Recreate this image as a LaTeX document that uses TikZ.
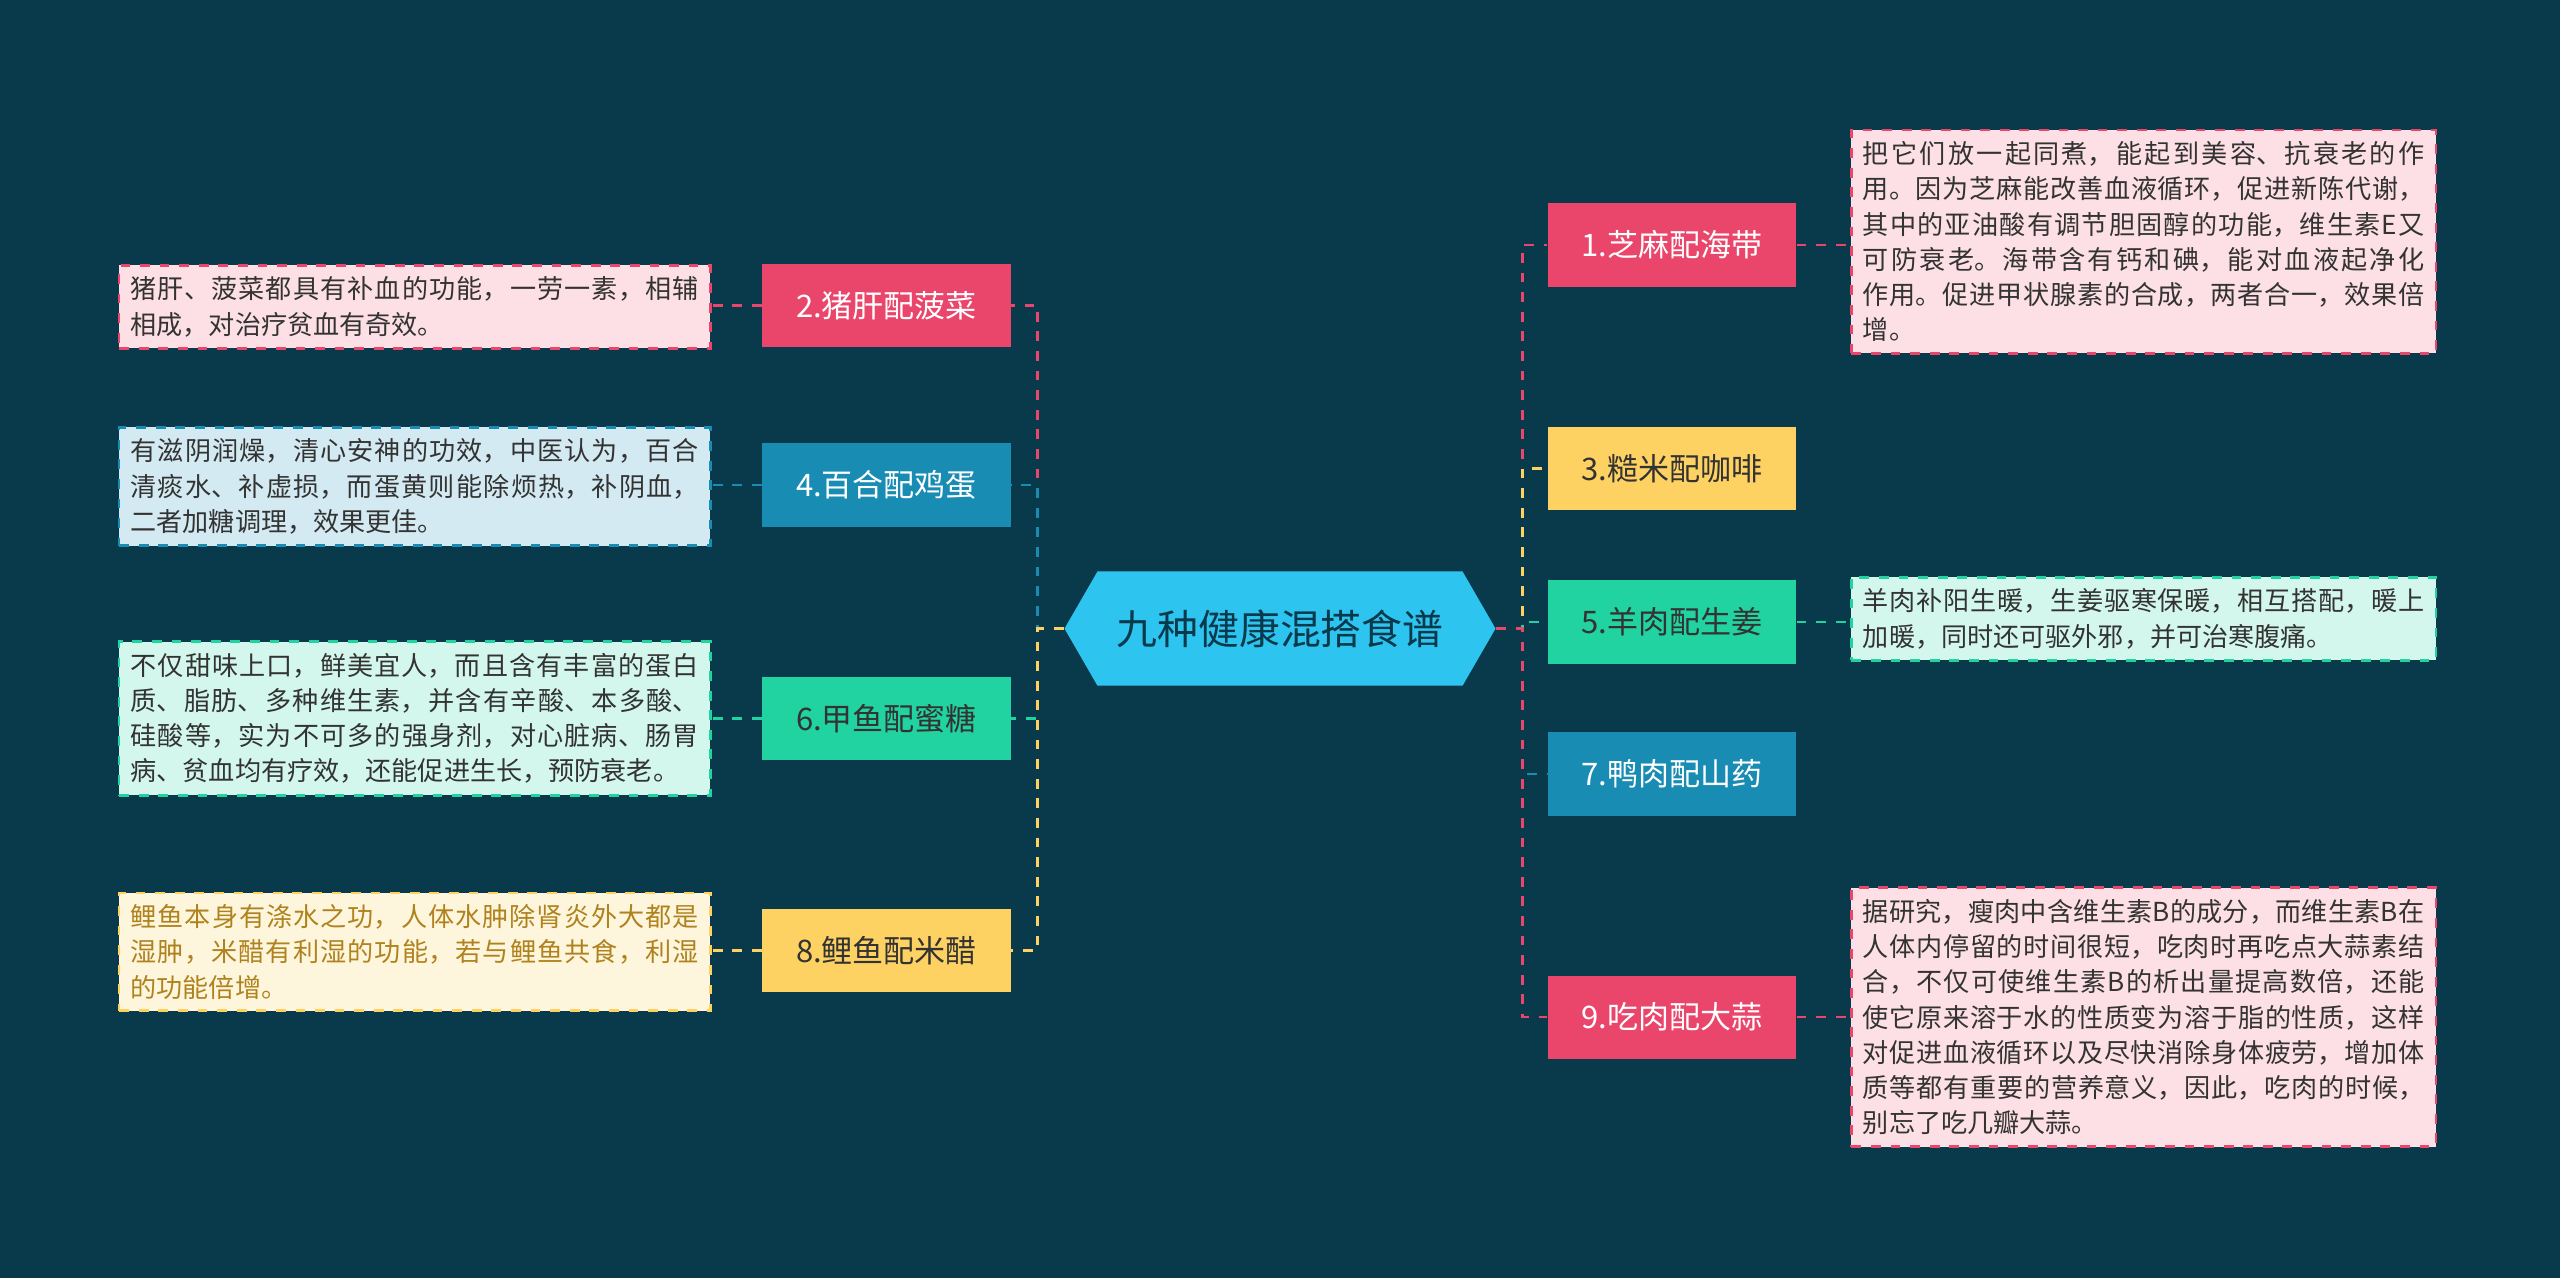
\documentclass[tikz,border=0pt]{standalone}
\usepackage{fontspec}
\setmainfont{Noto Sans CJK SC}
\XeTeXlinebreaklocale "zh"
\XeTeXlinebreakskip = 0pt plus 1pt
\usetikzlibrary{shapes.symbols}
\definecolor{bg}{RGB}{9,58,76}
\definecolor{cpink}{RGB}{234,70,107}
\definecolor{cyel}{RGB}{253,210,99}
\definecolor{cgreen}{RGB}{32,211,160}
\definecolor{cblue}{RGB}{25,140,180}
\definecolor{ccyan}{RGB}{46,196,240}
\definecolor{lpink}{RGB}{253,224,230}
\definecolor{lblue}{RGB}{212,234,242}
\definecolor{lgreen}{RGB}{211,247,236}
\definecolor{lyel}{RGB}{254,246,220}
\definecolor{txt}{RGB}{51,51,51}
\definecolor{gold}{RGB}{176,130,30}
\tikzset{
  branch/.style={minimum width=76pt, minimum height=25.5pt, inner sep=2pt, font=\fontsize{9.5}{11}\selectfont},
  leaf/.style={draw, dashed, thick, text width=#1, align=justify, inner sep=3.5pt, text=txt, font=\fontsize{8}{10.8}\selectfont},
  link/.style={dashed, thick}
}
\begin{document}
\begin{tikzpicture}[x=0.5pt, y=-0.5pt]
  \fill[bg] (0,0) rectangle (1568,783);
  \node[signal, signal to=west and east, signal pointer angle=120, fill=ccyan,
        minimum width=132pt, minimum height=35pt, inner xsep=4pt, text=bg, font=\fontsize{12.5}{14}\selectfont] (root) at (784,385) {九种健康混搭食谱};
  % right side
  \node[branch, fill=cpink, text=white] (b1) at (1024,150) {1.芝麻配海带};
  \node[branch, fill=cyel, text=txt] (b3) at (1024,287) {3.糙米配咖啡};
  \node[branch, fill=cgreen, text=txt] (b5) at (1024,381) {5.羊肉配生姜};
  \node[branch, fill=cblue, text=white] (b7) at (1024,474) {7.鸭肉配山药};
  \node[branch, fill=cpink, text=white] (b9) at (1024,623) {9.吃肉配大蒜};
  % left side
  \node[branch, fill=cpink, text=white] (b2) at (543,187) {2.猪肝配菠菜};
  \node[branch, fill=cblue, text=white] (b4) at (543,297) {4.百合配鸡蛋};
  \node[branch, fill=cgreen, text=txt] (b6) at (543,440) {6.甲鱼配蜜糖};
  \node[branch, fill=cyel, text=txt] (b8) at (543,582) {8.鲤鱼配米醋};
  % leaves
  \node[leaf=172pt, draw=cpink, fill=lpink] (l1) at (1313,148) {把它们放一起同煮，能起到美容、抗衰老的作用。因为芝麻能改善血液循环，促进新陈代谢，其中的亚油酸有调节胆固醇的功能，维生素E又可防衰老。海带含有钙和碘，能对血液起净化作用。促进甲状腺素的合成，两者合一，效果倍增。};
  \node[leaf=172pt, draw=cgreen, fill=lgreen] (l5) at (1313,379) {羊肉补阳生暖，生姜驱寒保暖，相互搭配，暖上加暖，同时还可驱外邪，并可治寒腹痛。};
  \node[leaf=172pt, draw=cpink, fill=lpink] (l9) at (1313,623) {据研究，瘦肉中含维生素B的成分，而维生素B在人体内停留的时间很短，吃肉时再吃点大蒜素结合，不仅可使维生素B的析出量提高数倍，还能使它原来溶于水的性质变为溶于脂的性质，这样对促进血液循环以及尽快消除身体疲劳，增加体质等都有重要的营养意义，因此，吃肉的时候，别忘了吃几瓣大蒜。};
  \node[leaf=174pt, draw=cpink, fill=lpink] (l2) at (254,188) {猪肝、菠菜都具有补血的功能，一劳一素，相辅相成，对治疗贫血有奇效。};
  \node[leaf=174pt, draw=cblue, fill=lblue] (l4) at (254,298) {有滋阴润燥，清心安神的功效，中医认为，百合清痰水、补虚损，而蛋黄则能除烦热，补阴血，二者加糖调理，效果更佳。};
  \node[leaf=174pt, draw=cgreen, fill=lgreen] (l6) at (254,440) {不仅甜味上口，鲜美宜人，而且含有丰富的蛋白质、脂肪、多种维生素，并含有辛酸、本多酸、硅酸等，实为不可多的强身剂，对心脏病、肠胃病、贫血均有疗效，还能促进生长，预防衰老。};
  \node[leaf=174pt, draw=cyel, fill=lyel, text=gold] (l8) at (254,583) {鲤鱼本身有涤水之功，人体水肿除肾炎外大都是湿肿，米醋有利湿的功能，若与鲤鱼共食，利湿的功能倍增。};
  % connectors
  \foreach \b/\c in {b1/cpink, b3/cyel, b5/cgreen, b7/cblue, b9/cpink}
    \draw[link, \c] (root.east) -- ++(16,0) |- (\b.west);
  \foreach \b/\c in {b2/cpink, b4/cblue, b6/cgreen, b8/cyel}
    \draw[link, \c] (root.west) -- ++(-16,0) |- (\b.east);
  \foreach \b/\l/\c in {b1/l1/cpink, b5/l5/cgreen, b9/l9/cpink}
    \draw[link, \c] (\b.east) -- (\b.east -| \l.west);
  \foreach \b/\l/\c in {b2/l2/cpink, b4/l4/cblue, b6/l6/cgreen, b8/l8/cyel}
    \draw[link, \c] (\b.west) -- (\b.west -| \l.east);
\end{tikzpicture}
\end{document}
